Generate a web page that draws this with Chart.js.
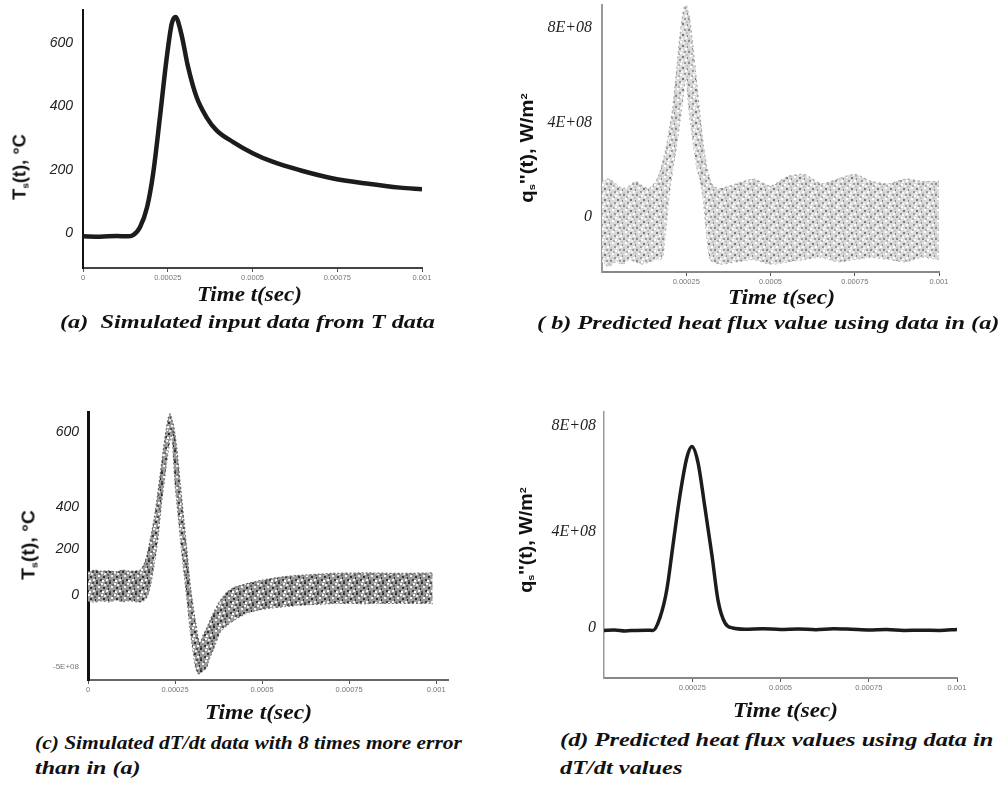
<!DOCTYPE html>
<html>
<head>
<meta charset="utf-8">
<script src="https://cdn.jsdelivr.net/npm/chart.js@4.4.1/dist/chart.umd.min.js"></script>
<style>
html,body{margin:0;padding:0;background:#fff;}
body{width:1006px;height:786px;position:relative;overflow:hidden;}
canvas{position:absolute;}
.t{position:absolute;white-space:nowrap;color:#111;line-height:1;z-index:2;}
.cap{font:italic bold 19px 'Liberation Serif','DejaVu Serif',serif;}
.xt{font:italic bold 22px 'Liberation Serif','DejaVu Serif',serif;}
.yt{font:bold 18px 'Liberation Sans',Arial,sans-serif;}
.yt sub{font-size:55%;vertical-align:-0.3em;}
.yt sup{font-size:55%;vertical-align:0.6em;}
</style>
</head>
<body>
<canvas id="ca" width="429" height="283" style="left:13px;top:5px"></canvas>
<canvas id="cb" width="427" height="292" style="left:532px;top:0px"></canvas>
<canvas id="cc" width="450" height="293" style="left:18px;top:407px"></canvas>
<canvas id="cd" width="444" height="291" style="left:534px;top:407px"></canvas>

<div class="t yt" data-r="1" data-x="20" data-y="167" data-w="66">T<sub>s</sub>(t), °C</div>
<div class="t yt" data-r="1" data-x="527" data-y="148" data-w="110">q<sub>s</sub>''(t), W/m<sup>2</sup></div>
<div class="t yt" data-r="1" data-x="29" data-y="545" data-w="70">T<sub>s</sub>(t), °C</div>
<div class="t yt" data-r="1" data-x="526" data-y="540" data-w="106">q<sub>s</sub>''(t), W/m<sup>2</sup></div>

<div class="t xt" data-x="197" data-y="294" data-w="105">Time t(sec)</div>
<div class="t xt" data-x="728" data-y="297" data-w="107">Time t(sec)</div>
<div class="t xt" data-x="205" data-y="712" data-w="107">Time t(sec)</div>
<div class="t xt" data-x="733" data-y="710" data-w="105">Time t(sec)</div>

<div class="t cap" data-x="60" data-y="322" data-w="375">(a)&nbsp; Simulated input data from T data</div>
<div class="t cap" data-x="537" data-y="323" data-w="463">( b) Predicted heat flux value using data in (a)</div>
<div class="t cap" data-x="35" data-y="743" data-w="427">(c) Simulated dT/dt data with 8 times more error</div>
<div class="t cap" data-x="35" data-y="768" data-w="105">than in (a)</div>
<div class="t cap" data-x="560" data-y="740" data-w="433">(d) Predicted heat flux values using data in</div>
<div class="t cap" data-x="560" data-y="768" data-w="123">dT/dt values</div>

<script>
// ---------- DATA ----------
const xTickVals = [0, 0.00025, 0.0005, 0.00075, 0.001];
const xTickLabels = ['0', '0.00025', '0.0005', '0.00075', '0.001'];
const xTickValsNoZero = [0.00025, 0.0005, 0.00075, 0.001];
const xTickLabelsNoZero = ['0.00025', '0.0005', '0.00075', '0.001'];

// (a) simulated surface temperature
const tA = [0, 0.00005, 0.0001, 0.00013, 0.000148, 0.000168, 0.000189, 0.000207, 0.000227, 0.000246, 0.000262, 0.000273, 0.00029, 0.00031, 0.000335, 0.000364, 0.000394, 0.000443, 0.000502, 0.000561, 0.00064, 0.000738, 0.000836, 0.000935, 0.001];
const tempA = [-10, -11, -9, -10, -6, 19, 82, 189, 367, 546, 663, 683, 630, 525, 430, 367, 325, 288, 252, 225, 199, 173, 157, 144, 139];
const yTickValsA = [0, 200, 400, 600];
const yTickLabelsA = ['0', '200', '400', '600'];

// (b) predicted heat flux, noisy scatter cloud (upper / lower edge)
const tB = [0, 0.00002, 0.00004, 0.00006, 0.00008, 0.0001, 0.00012, 0.00014,
  0.00016, 0.00017, 0.00018, 0.00019, 0.0002, 0.00021, 0.00022, 0.00023, 0.00024, 0.000245, 0.00025, 0.000255, 0.00026, 0.00027, 0.00028, 0.00029, 0.0003, 0.00031, 0.00032, 0.00033,
  0.00035, 0.0004, 0.00045, 0.0005, 0.00055, 0.0006, 0.00065, 0.0007, 0.00075, 0.0008, 0.00085, 0.0009, 0.00095, 0.001];
const fluxBUpper = [1.5e8, 1.6e8, 1.4e8, 1.2e8, 1.3e8, 1.5e8, 1.3e8, 1.2e8,
  1.5e8, 1.8e8, 2.3e8, 2.9e8, 3.7e8, 4.6e8, 6.0e8, 7.5e8, 8.6e8, 8.9e8, 8.95e8, 8.7e8, 8.4e8, 7.2e8, 5.8e8, 4.4e8, 3.1e8, 2.2e8, 1.6e8, 1.3e8,
  1.2e8, 1.4e8, 1.6e8, 1.3e8, 1.7e8, 1.8e8, 1.4e8, 1.6e8, 1.8e8, 1.5e8, 1.4e8, 1.6e8, 1.5e8, 1.5e8];
const fluxBLower = [-1.9e8, -2.1e8, -1.9e8, -2.0e8, -1.8e8, -1.9e8, -2.0e8, -1.9e8,
  -1.8e8, -1.8e8, -1.7e8, -0.4e8, 1.0e8, 2.0e8, 2.9e8, 3.9e8, 5.0e8, 5.6e8, 6.0e8, 5.0e8, 4.3e8, 3.2e8, 2.2e8, 1.6e8, 0.8e8, -0.7e8, -1.8e8, -1.9e8,
  -2.0e8, -1.9e8, -1.8e8, -2.0e8, -1.9e8, -1.8e8, -1.7e8, -1.9e8, -1.8e8, -1.7e8, -1.8e8, -1.9e8, -1.7e8, -1.8e8];
const yTickValsB = [0, 4e8, 8e8];
const yTickLabelsB = ['0', '4E+08', '8E+08'];

// (c) simulated dT/dt, noisy scatter cloud (upper / lower edge)
const tC = [0, 0.00002, 0.00004, 0.00006, 0.00008, 0.0001, 0.00012, 0.00014,
  0.00015, 0.00016, 0.00017, 0.00018, 0.00019, 0.0002, 0.00021, 0.00022, 0.00023,
  0.000236, 0.00024, 0.000245,
  0.00025, 0.000255, 0.00026, 0.000265, 0.00027, 0.000275, 0.00028, 0.000285, 0.00029, 0.000295, 0.0003, 0.000305, 0.00031, 0.000315, 0.00032, 0.000325,
  0.00033, 0.00034, 0.00035, 0.00036,
  0.00038, 0.0004, 0.00042, 0.00045,
  0.0005, 0.00055, 0.0006, 0.0007, 0.0008, 0.0009, 0.00099];
const rateCUpper = [85, 92, 88, 90, 86, 92, 88, 90,
  92, 110, 150, 212, 280, 370, 470, 570, 650,
  670, 650, 630,
  590, 540, 475, 410, 345, 280, 215, 150, 80, 20, -25, -70, -110, -150, -175, -170,
  -150, -125, -95, -67,
  -20, 12, 28, 40,
  55, 66, 72, 80, 82, 80, 82];
const rateCLower = [-22, -25, -20, -25, -18, -24, -20, -25,
  -25, -20, -5, 40, 115, 200, 330, 430, 530,
  575, 595, 520,
  412, 345, 280, 215, 150, 95, 35, -20, -85, -145, -190, -235, -270, -287, -290, -285,
  -280, -268, -230, -200,
  -135, -110, -92, -70,
  -52, -44, -38, -31, -31, -30, -31];
const yTickValsC = [-265, 0, 169, 324, 600];
const yTickLabelsC = ['-5E+08', '0', '200', '400', '600'];

// (d) predicted heat flux from dT/dt
const tD = [0, 0.00003, 0.00006, 0.00009, 0.00012, 0.000139, 0.000159, 0.000178, 0.000195, 0.000215, 0.000235, 0.000249, 0.000266, 0.000286, 0.000306, 0.000323, 0.000343, 0.000365, 0.0004, 0.00045, 0.0005, 0.00055, 0.0006, 0.00065, 0.0007, 0.00075, 0.0008, 0.00085, 0.0009, 0.00095, 0.001];
const fluxD = [-0.1e8, -0.08e8, -0.12e8, -0.1e8, -0.09e8, -0.1e8, 0.45e8, 1.6e8, 3.4e8, 5.5e8, 7.1e8, 7.55e8, 6.9e8, 5.0e8, 3.0e8, 1.15e8, 0.2e8, 0.0, -0.05e8, -0.03e8, -0.06e8, -0.04e8, -0.07e8, -0.03e8, -0.05e8, -0.08e8, -0.06e8, -0.1e8, -0.09e8, -0.1e8, -0.06e8];
const yTickValsD = [0, 4e8, 8.4e8];
const yTickLabelsD = ['0', '4E+08', '8E+08'];

// ---------- STYLE HELPERS ----------
const SANS = "'Liberation Sans', Arial, sans-serif";
const SERIF = "'Liberation Serif', 'Times New Roman', serif";

function speckle(canvasId, w, h, base, dots) {
  const tile = document.createElement('canvas');
  tile.width = w; tile.height = h;
  const g = tile.getContext('2d');
  g.fillStyle = base; g.fillRect(0, 0, w, h);
  dots.forEach(d => { g.fillStyle = d[2]; g.fillRect(d[0], d[1], 2, 2); });
  return document.getElementById(canvasId).getContext('2d').createPattern(tile, 'repeat');
}
function xs(t, v) { return t.map((x, i) => ({x: x, y: v[i]})); }

function xScale(min, max, vals, labels, border) {
  return {
    type: 'linear', min: min, max: max,
    afterBuildTicks: s => { s.ticks = vals.map(v => ({value: v})); },
    afterFit: s => { s.height = 20; },
    ticks: {callback: (v, i) => labels[i], autoSkip: false, maxRotation: 0, padding: 1,
      font: {family: SANS, size: 7.5}, color: '#777'},
    grid: {drawOnChartArea: false, tickLength: 4, color: '#555', tickWidth: 1},
    border: {color: border[0], width: border[1]}
  };
}
function yScale(min, max, vals, labels, font, border, pad) {
  return {
    type: 'linear', min: min, max: max,
    afterBuildTicks: s => { s.ticks = vals.map(v => ({value: v})); },
    afterFit: s => { s.width = 70; },
    ticks: {callback: (v, i) => labels[i], autoSkip: false, padding: pad, font: font,
      color: ctx => (ctx.tick && ctx.tick.label === '-5E+08') ? '#777' : '#222'},
    grid: {drawOnChartArea: false, drawTicks: false},
    border: {color: border[0], width: border[1]}
  };
}
function opts(x, y) {
  return {
    responsive: false, maintainAspectRatio: false, animation: false, devicePixelRatio: 1, events: [],
    layout: {autoPadding: false, padding: {top: 5, right: 20, left: 0, bottom: 0}},
    plugins: {legend: {display: false}, tooltip: {enabled: false}},
    scales: {x: x, y: y}
  };
}

// build a chart, then re-place its canvas so the plot area lands on the target box
function place(id, makeConfig, box) {
  const cv = document.getElementById(id);
  let ch = new Chart(cv, makeConfig());
  const a = ch.chartArea;
  const offL = a.left, offT = a.top, offR = cv.width - a.right, offB = cv.height - a.bottom;
  ch.destroy();
  const c2 = document.createElement('canvas');
  c2.id = id;
  c2.width = Math.round(box[2] - box[0] + offL + offR);
  c2.height = Math.round(box[3] - box[1] + offT + offB);
  c2.style.left = Math.round(box[0] - offL) + 'px';
  c2.style.top = Math.round(box[1] - offT) + 'px';
  cv.replaceWith(c2);
  return new Chart(c2, makeConfig());
}

// ---------- (a) ----------
place('ca', () => ({
  type: 'scatter',
  data: {datasets: [{data: xs(tA, tempA), showLine: true, borderColor: '#1c1c1c', borderWidth: 4.5,
    pointRadius: 0, cubicInterpolationMode: 'monotone'}]},
  options: opts(
    xScale(0, 0.001, xTickVals, xTickLabels, ['#444', 2]),
    yScale(-110, 704, yTickValsA, yTickLabelsA, {family: SANS, size: 14, style: 'italic'}, ['#111', 2], 10))
}), [83, 10, 422, 268]);

// ---------- (b) ----------
place('cb', () => ({
  type: 'scatter',
  data: {datasets: [
    {data: xs(tB, fluxBUpper), showLine: true, fill: '+1',
      backgroundColor: speckle('cb', 13, 11, '#dadada', [
        [0,0,'#8c8c8c'],[5,1,'#ffffff'],[9,0,'#a0a0a0'],[2,4,'#ffffff'],[7,5,'#7a7a7a'],[11,3,'#c4c4c4'],
        [4,8,'#9a9a9a'],[10,8,'#ffffff'],[0,9,'#c8c8c8'],[6,9,'#f6f6f6'],[3,2,'#b4b4b4'],[12,6,'#8a8a8a'],[8,2,'#f2f2f2']]),
      borderColor: '#aaa', borderWidth: 1.2, borderDash: [2, 3], pointRadius: 0, tension: 0.2},
    {data: xs(tB, fluxBLower), showLine: true, borderColor: '#aaa', borderWidth: 1.2, borderDash: [2, 3],
      pointRadius: 0, tension: 0.2}
  ]},
  options: opts(
    xScale(0, 0.001, xTickValsNoZero, xTickLabelsNoZero, ['#888', 2]),
    yScale(-2.33e8, 8.98e8, yTickValsB, yTickLabelsB, {family: SERIF, size: 16, style: 'italic'}, ['#999', 2], 10))
}), [602, 5, 939, 272]);

// ---------- (c) ----------
place('cc', () => ({
  type: 'scatter',
  data: {datasets: [
    {data: xs(tC, rateCUpper), showLine: true, fill: '+1',
      backgroundColor: speckle('cc', 13, 11, '#9a9a9a', [
        [0,0,'#2e2e2e'],[5,1,'#f2f2f2'],[9,0,'#4d4d4d'],[2,4,'#f2f2f2'],[7,5,'#2e2e2e'],[11,3,'#606060'],
        [4,8,'#3a3a3a'],[10,8,'#f2f2f2'],[0,9,'#555555'],[6,9,'#ffffff'],[3,2,'#707070'],[12,6,'#2a2a2a'],[8,2,'#e8e8e8']]),
      borderColor: '#666', borderWidth: 1.2, borderDash: [2, 2], pointRadius: 0, tension: 0.2},
    {data: xs(tC, rateCLower), showLine: true, borderColor: '#666', borderWidth: 1.2, borderDash: [2, 2],
      pointRadius: 0, tension: 0.2}
  ]},
  options: opts(
    xScale(0, 0.001034, xTickVals, xTickLabels, ['#666', 2]),
    yScale(-313, 674, yTickValsC, yTickLabelsC,
      ctx => (ctx.tick && ctx.tick.label === '-5E+08') ? {family: SANS, size: 8} : {family: SANS, size: 14, style: 'italic'},
      ['#111', 3], 9))
}), [88, 412, 448, 680]);

// ---------- (d) ----------
place('cd', () => ({
  type: 'scatter',
  data: {datasets: [{data: xs(tD, fluxD), showLine: true, borderColor: '#1c1c1c', borderWidth: 3.5,
    pointRadius: 0, cubicInterpolationMode: 'monotone'}]},
  options: opts(
    xScale(0, 0.001, xTickValsNoZero, xTickLabelsNoZero, ['#888', 2]),
    yScale(-2.08e8, 9.0e8, yTickValsD, yTickLabelsD, {family: SERIF, size: 16, style: 'italic'}, ['#999', 1.5], 8))
}), [604, 412, 957, 678]);

// ---------- text fitting ----------
function fitTexts() {
  document.querySelectorAll('.t').forEach(el => {
    el.style.transform = 'none';
    const s = (+el.dataset.w) / el.offsetWidth;
    el.style.left = el.dataset.x + 'px';
    el.style.top = el.dataset.y + 'px';
    if (el.dataset.r) {
      el.style.transformOrigin = '50% 50%';
      el.style.transform = 'translate(-50%,-50%) rotate(-90deg) scaleX(' + s + ')';
    } else {
      el.style.transformOrigin = '0 50%';
      el.style.transform = 'translateY(-50%) scaleX(' + s + ')';
    }
  });
}
fitTexts();
if (document.fonts && document.fonts.ready) document.fonts.ready.then(fitTexts);
</script>
</body>
</html>
